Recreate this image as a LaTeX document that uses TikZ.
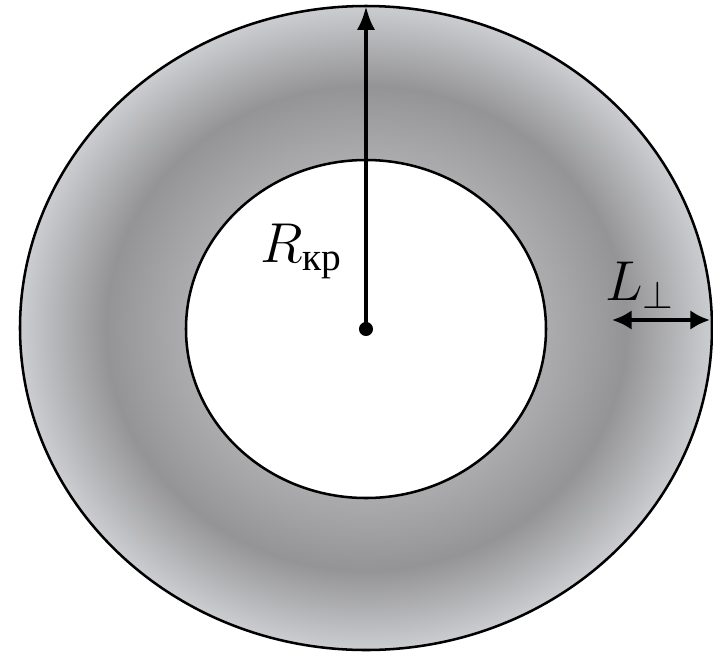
\RequirePackage{fix-cm}
\documentclass[tikz,border=0pt]{standalone}
\usepackage{amsmath}
\usepackage{fontspec}
\newfontfamily\cyrfont{Liberation Serif}
\usetikzlibrary{arrows.meta,positioning}
\definecolor{ringin}{RGB}{172,172,174}
\definecolor{ringmid}{RGB}{148,148,150}
\definecolor{ringout}{RGB}{204,205,208}
\pgfdeclareradialshading{ringshade}{\pgfpoint{0bp}{0bp}}{%
  color(0bp)=(white); color(13bp)=(ringin); color(18.8bp)=(ringmid);
  color(25bp)=(ringout); color(50bp)=(ringout)}
\tikzset{
  rim/.style={draw=black, line width=1.8pt},
  ar/.style={-{Latex[length=17pt, width=13pt]}, line width=3.2pt},
  dar/.style={{Latex[length=14pt, width=14pt]}-{Latex[length=14pt, width=14pt]}, line width=3.2pt},
  dotn/.style={circle, fill=black, inner sep=0pt, minimum size=10pt},
  lbl/.style={font=\fontsize{40}{40}\selectfont, inner sep=0pt},
}

\begin{document}
\begin{tikzpicture}[x=0.025cm, y=-0.025cm]
\useasboundingbox (0,0) rectangle (713,654);

%% shaded ring between the two boundaries
\shade[even odd rule, shading=ringshade]
  (366,328) ellipse [x radius=346, y radius=322]
  (366,329) ellipse [x radius=180, y radius=169];
\draw[rim] (366,328) ellipse [x radius=346, y radius=322];
\draw[rim] (366,329) ellipse [x radius=180, y radius=169];

%% radius from the centre to the outer edge
\node[dotn] (ctr) at (366,329) {};
\coordinate (top) at (366,6);
\draw[ar] (ctr.center) -- (top);
\node[lbl, anchor=base west] (rlab) at (260,262) {$R_{\text{\cyrfont кр}}$};

%% thickness of the layer at the right
\coordinate (lin) at (612,320);
\coordinate (lout) at (710,320);
\draw[dar] (lin) -- (lout);
\node[lbl, anchor=base west] (llab) at (605,300) {$L_{\perp}$};

\end{tikzpicture}
\end{document}
